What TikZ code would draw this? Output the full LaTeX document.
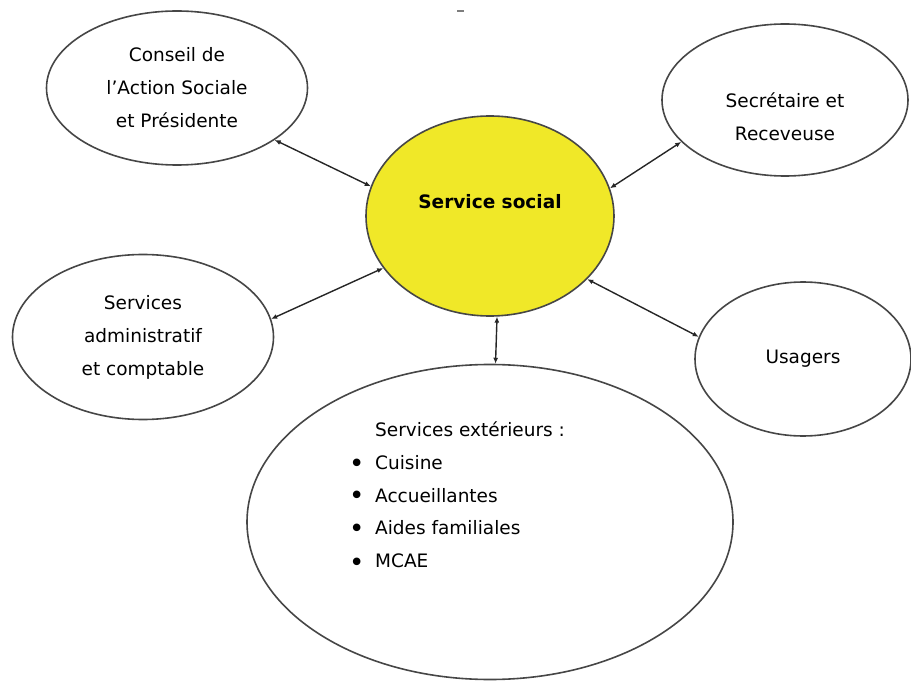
\documentclass[tikz,border=0pt]{standalone}
\usepackage{fontspec}
\setmainfont{DejaVu Sans}
\usetikzlibrary{shapes.geometric,arrows.meta}
\definecolor{jaune}{RGB}{240,232,40}
\definecolor{trait}{RGB}{70,70,70}
\newcommand{\puce}{\makebox[24pt][l]{\kern-2pt\raisebox{-3pt}{\fontsize{26}{33}\selectfont\textbullet}}}
\tikzset{
  bulle/.style={ellipse,draw=trait,line width=1.6pt,align=center,inner sep=0pt},
  lien/.style={{Latex[length=6pt,width=5pt]}-{Latex[length=6pt,width=5pt]},line width=1.4pt,draw=black!85},
  liste/.style={align=left,anchor=north west,inner sep=0pt}
}
\begin{document}
\begin{tikzpicture}[x=1pt,y=1pt,font=\fontsize{18.5}{33}\selectfont]
\useasboundingbox(0,0)rectangle(911,-682);
\node[bulle,minimum width=261,minimum height=154](conseil)at(177,-88){Conseil de\\l’Action Sociale\\et Présidente};
\node[bulle,minimum width=246,minimum height=152,label={[yshift=-17pt,align=center]center:Secrétaire et\\Receveuse}](secretaire)at(785,-100){};
\node[bulle,fill=jaune,minimum width=248,minimum height=200,label={[yshift=14pt,font=\fontsize{18.5}{33}\selectfont\bfseries]center:Service social}](social)at(490,-216){};
\node[bulle,minimum width=261,minimum height=165](admin)at(143,-337){Services\\administratif\\et comptable};
\node[bulle,minimum width=216,minimum height=154](usagers)at(803,-359){Usagers};
\node[bulle,minimum width=486,minimum height=315](exterieurs)at(490,-522){};
\node[liste](services)at(351,-421){\hspace*{24pt}Services extérieurs :\\
  \puce Cuisine\\
  \puce Accueillantes\\
  \puce Aides familiales\\
  \puce MCAE};
\draw[lien](conseil.-28)--(social.166);
\draw[lien](secretaire.202)--(social.13);
\draw[lien](admin.8)--(social.206);
\draw[lien](usagers.168)--(social.-33);
\draw[lien](exterieurs.88)--(social.-86);
\draw[trait!70,line width=1.5pt](457,-11)--(464,-11);
\end{tikzpicture}
\end{document}
